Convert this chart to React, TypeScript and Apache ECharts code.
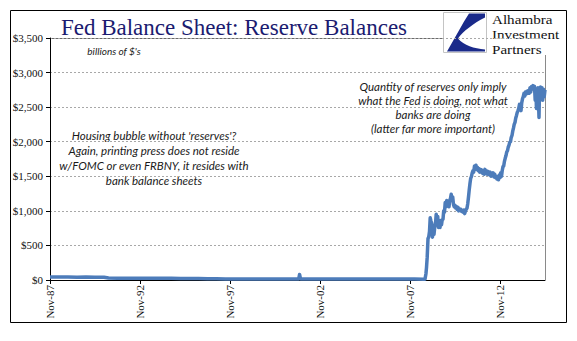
import React, { useEffect, useRef } from "react";
import * as echarts from "echarts";

// ---- data (billions of $) ----
const dates: string[] = [
  "1987-11-01", "1988-05-01", "1988-11-01", "1989-05-01", "1989-11-01", "1990-05-01", "1990-11-01",
  "1991-02-01", "1991-08-01", "1992-02-01", "1992-08-01", "1993-02-01", "1993-08-01", "1994-02-01",
  "1994-08-01", "1995-02-01", "1995-08-01", "1996-02-01", "1996-08-01", "1997-02-01", "1997-08-01",
  "1998-02-01", "1998-08-01", "1999-02-01", "1999-08-01", "2000-02-01", "2000-08-01", "2001-02-01",
  "2001-08-25", "2001-09-12", "2001-10-01", "2002-02-01", "2002-08-01", "2003-02-01", "2003-08-01",
  "2004-02-01", "2004-08-01", "2005-02-01", "2005-08-01", "2006-02-01", "2006-08-01", "2007-02-01",
  "2007-08-01", "2008-02-01", "2008-08-01", "2008-09-01", "2008-09-20", "2008-10-01", "2008-10-15",
  "2008-11-01", "2008-11-15", "2008-12-01", "2008-12-15", "2009-01-01", "2009-01-15", "2009-02-01",
  "2009-02-15", "2009-03-01", "2009-03-15", "2009-04-01", "2009-04-15", "2009-05-01", "2009-05-15",
  "2009-06-01", "2009-06-15", "2009-07-01", "2009-07-15", "2009-08-01", "2009-08-15", "2009-09-01",
  "2009-09-15", "2009-10-01", "2009-10-15", "2009-11-01", "2009-11-15", "2009-12-01", "2009-12-15",
  "2010-01-01", "2010-01-15", "2010-02-01", "2010-02-15", "2010-03-01", "2010-03-15", "2010-04-01",
  "2010-04-15", "2010-05-01", "2010-05-15", "2010-06-01", "2010-06-15", "2010-07-01", "2010-07-15",
  "2010-08-01", "2010-08-15", "2010-09-01", "2010-09-15", "2010-10-01", "2010-10-15", "2010-11-01",
  "2010-11-15", "2010-12-01", "2010-12-15", "2011-01-01", "2011-01-15", "2011-02-01", "2011-02-15",
  "2011-03-01", "2011-03-15", "2011-04-01", "2011-04-15", "2011-05-01", "2011-05-15", "2011-06-01",
  "2011-06-15", "2011-07-01", "2011-07-15", "2011-08-01", "2011-08-15", "2011-09-01", "2011-09-15",
  "2011-10-01", "2011-10-15", "2011-11-01", "2011-11-15", "2011-12-01", "2011-12-15", "2012-01-01",
  "2012-01-15", "2012-02-01", "2012-02-15", "2012-03-01", "2012-03-15", "2012-04-01", "2012-04-15",
  "2012-05-01", "2012-05-15", "2012-06-01", "2012-06-15", "2012-07-01", "2012-07-15", "2012-08-01",
  "2012-08-15", "2012-09-01", "2012-09-15", "2012-10-01", "2012-10-15", "2012-11-01", "2012-11-15",
  "2012-12-01", "2012-12-15", "2013-01-01", "2013-01-15", "2013-02-01", "2013-02-15", "2013-03-01",
  "2013-03-15", "2013-04-01", "2013-04-15", "2013-05-01", "2013-05-15", "2013-06-01", "2013-06-15",
  "2013-07-01", "2013-07-15", "2013-08-01", "2013-08-15", "2013-09-01", "2013-09-15", "2013-10-01",
  "2013-10-15", "2013-11-01", "2013-11-15", "2013-12-01", "2013-12-15", "2014-01-01", "2014-01-15",
  "2014-02-01", "2014-02-15", "2014-03-01", "2014-03-15", "2014-04-01", "2014-04-15", "2014-05-01",
  "2014-05-15", "2014-06-01", "2014-06-15", "2014-07-01", "2014-07-15", "2014-08-01", "2014-08-15",
  "2014-09-01", "2014-09-15", "2014-10-01", "2014-10-15", "2014-11-01", "2014-11-10", "2014-11-20",
  "2014-12-01", "2014-12-10", "2014-12-20", "2015-01-01", "2015-01-10", "2015-01-20", "2015-02-01",
  "2015-02-15", "2015-03-01", "2015-03-15", "2015-04-01", "2015-04-15", "2015-05-01",
];

const reserves: number[] = [
  44, 42, 43, 40, 42, 39, 40,
  28, 26, 27, 24, 26, 27, 25,
  24, 22, 21, 20, 18, 17, 16,
  16, 15, 15, 14, 14, 13, 13,
  14, 80, 15, 14, 14, 15, 15,
  16, 15, 15, 14, 14, 13, 13,
  14, 13, 12, 12, 90, 180, 330,
  600, 620, 700, 900, 850, 820, 620,
  700, 660, 760, 820, 950, 860, 920,
  760, 820, 760, 860, 800, 870, 880,
  1000, 980, 1120, 1060, 1150, 1100, 1140,
  1060, 1150, 1180, 1240, 1150, 1200, 1090,
  1060, 1080, 1040, 1060, 1020, 1050, 1000,
  1030, 1010, 1020, 990, 1000, 980, 1010,
  960, 1000, 1020, 1040, 1100, 1200, 1300,
  1400, 1470, 1500, 1550, 1580, 1560, 1650,
  1620, 1660, 1600, 1630, 1580, 1610, 1560,
  1600, 1560, 1590, 1540, 1580, 1530, 1600,
  1560, 1580, 1530, 1570, 1540, 1520, 1560,
  1500, 1540, 1510, 1550, 1490, 1530, 1480,
  1500, 1460, 1490, 1450, 1520, 1480, 1550,
  1500, 1580, 1640, 1650, 1720, 1760, 1800,
  1850, 1870, 1920, 1950, 1990, 2000, 2060,
  2090, 2150, 2200, 2250, 2280, 2340, 2380,
  2420, 2450, 2480, 2540, 2490, 2450, 2560,
  2620, 2650, 2700, 2660, 2720, 2690, 2730,
  2700, 2740, 2700, 2780, 2720, 2800, 2790,
  2810, 2760, 2800, 2600, 2720, 2480, 2760,
  2700, 2780, 2600, 2350, 2700, 2600, 2790,
  2650, 2780, 2600, 2760, 2650, 2750,
];

const xTickLabels: string[] = ["Nov-87", "Nov-92", "Nov-97", "Nov-02", "Nov-07", "Nov-12"];
const yMax = 3500;
const yStep = 500;

const titleText = "Fed Balance Sheet: Reserve Balances";
const unitText = "billions of $'s";
const noteLeft = [
  "Housing bubble without 'reserves'?",
  "Again, printing press does not reside",
  "w/FOMC or even FRBNY, it resides with",
  "bank balance sheets",
];
const noteRight = [
  "Quantity of reserves only imply",
  "what the Fed is doing, not what",
  "banks are doing",
  "(latter far more important)",
];
const logoLines = ["Alhambra", "Investment", "Partners"];

// months since Nov 1987
function toOffset(d: string): number {
  const [y, m, day] = d.split("-").map(Number);
  return (y - 1987) * 12 + (m - 11) + ((day || 1) - 1) / 30;
}

const LOGO_D =
  "M24 0 L40 0 L40 4 C28 10 18 18 13 25 C19 32 29 35 40 36 L40 38 L2 38 C10 24 17 11 24 0 Z";
let logoRegistered = false;
function registerLogo() {
  if (logoRegistered) return;
  try {
    echarts.graphic.registerShape("logo", (echarts.graphic as any).extendPath(LOGO_D, {}));
  } catch (e) {
    // ignore
  }
  logoRegistered = true;
}

export default function App() {
  const ref = useRef<HTMLDivElement>(null);

  useEffect(() => {
    if (!ref.current) return;
    registerLogo();
    const chart = echarts.init(ref.current, undefined, { renderer: "svg" });
    const seriesData = dates.map((d, i) => [toOffset(d), reserves[i]]);
    const xMax = toOffset(dates[dates.length - 1]);

    const italic = {
      fontFamily: "Lato",
      fontStyle: "italic",
      fontSize: 11.5,
      fill: "#1a1a1a",
      align: "center",
      verticalAlign: "middle",
    };

    chart.setOption({
      animation: false,
      backgroundColor: "#fff",
      grid: { left: 50, right: 32, top: 38, bottom: 61, containLabel: false },
      xAxis: {
        type: "value",
        min: 0,
        max: xMax,
        interval: 60,
        axisLine: { show: true, lineStyle: { color: "#000", width: 1 } },
        axisTick: { show: true, length: 4, lineStyle: { color: "#000" } },
        splitLine: { show: false },
        axisLabel: {
          rotate: 90,
          margin: 5,
          fontFamily: "Liberation Serif",
          fontSize: 11,
          color: "#111",
          showMaxLabel: false,
          formatter: (v: number) => {
            const i = Math.round(v / 60);
            return Math.abs(v - i * 60) < 0.01 && xTickLabels[i] ? xTickLabels[i] : "";
          },
        },
      },
      yAxis: {
        type: "value",
        min: 0,
        max: yMax,
        interval: yStep,
        axisLine: { show: true, lineStyle: { color: "#000", width: 1 } },
        axisTick: { show: true, length: 4, lineStyle: { color: "#000" } },
        splitLine: { show: true, lineStyle: { color: "#a8a8a8", type: [2, 2], width: 1 } },
        axisLabel: {
          margin: 7,
          fontFamily: "Liberation Serif",
          fontSize: 11,
          color: "#111",
          formatter: (v: number) => "$" + v.toLocaleString("en-US"),
        },
      },
      series: [
        {
          type: "line",
          data: seriesData,
          showSymbol: false,
          symbol: "none",
          lineStyle: { color: "#4d7cba", width: 3.5, join: "round" },
          z: 3,
        },
      ],
      graphic: [
        {
          type: "rect",
          silent: true,
          shape: { x: 10.5, y: 10.5, width: 556, height: 312 },
          style: { fill: "none", stroke: "#000", lineWidth: 1 },
        },
        {
          type: "line",
          silent: true,
          shape: { x1: 50, y1: 38.5, x2: 443, y2: 38.5 },
          style: { stroke: "#6a6a6a", lineWidth: 1 },
        },
        {
          type: "line",
          silent: true,
          shape: { x1: 545.5, y1: 55, x2: 545.5, y2: 280 },
          style: { stroke: "#8a8a8a", lineWidth: 1 },
        },
        {
          type: "text",
          silent: true,
          x: 234,
          y: 27,
          style: {
            text: titleText,
            fontFamily: "Liberation Serif",
            fontSize: 23,
            fill: "#1b1b70",
            align: "center",
            verticalAlign: "middle",
          },
        },
        {
          type: "rect",
          silent: true,
          shape: { x: 443.5, y: 12.5, width: 43, height: 40 },
          style: { fill: "#fff", stroke: "#c4c4c4", lineWidth: 1 },
        },
        {
          type: "logo",
          silent: true,
          x: 445,
          y: 13.5,
          scaleX: 1,
          scaleY: 1,
          style: { fill: "#1a2a8a" },
        },
        ...logoLines.map((t, i) => ({
          type: "text",
          silent: true,
          x: 492,
          y: 19.5 + i * 15,
          scaleX: 1.12,
          style: {
            text: t,
            fontFamily: "Liberation Serif",
            fontSize: 13.5,
            fill: "#111",
            align: "left",
            verticalAlign: "middle",
          },
        })),
        {
          type: "text",
          silent: true,
          x: 114,
          y: 51,
          style: { ...italic, text: unitText, fontSize: 10 },
        },
        ...noteLeft.map((t, i) => ({
          type: "text",
          silent: true,
          x: 154,
          y: 135 + i * 15.3,
          style: { ...italic, text: t },
        })),
        ...noteRight.map((t, i) => ({
          type: "text",
          silent: true,
          x: 433,
          y: 86 + i * 14,
          style: { ...italic, text: t },
        })),
      ],
    });
    return () => chart.dispose();
  }, []);

  return (
    <div
      ref={ref}
      style={{ position: "fixed", left: 0, top: 0, width: 577, height: 341, background: "#fff" }}
    />
  );
}
